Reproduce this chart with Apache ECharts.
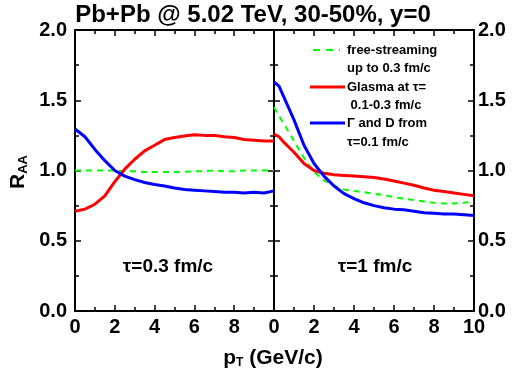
<!DOCTYPE html>
<html>
<head>
<meta charset="utf-8">
<script src="https://cdn.jsdelivr.net/npm/echarts@6/dist/echarts.min.js"></script>
<style>html,body{margin:0;padding:0;background:#fff}#c{width:514px;height:380px}</style>
</head>
<body>
<div id="c"></div>
<script>
// ---- data ----
var xL = [0,0.5,1,1.5,2,2.5,3,3.5,4,4.5,5,5.5,6,6.5,7,7.5,8,8.5,9,9.5,10];
var redL   = [0.71,0.725,0.76,0.82,0.92,1.01,1.08,1.14,1.18,1.22,1.235,1.245,1.255,1.25,1.25,1.24,1.235,1.22,1.215,1.21,1.21];
var blueL  = [1.295,1.24,1.15,1.07,1.0,0.96,0.935,0.915,0.9,0.89,0.875,0.865,0.86,0.855,0.85,0.845,0.845,0.84,0.845,0.84,0.855];
var greenL = [1.0,1.0,1.0,1.0,1.0,0.995,0.995,0.99,0.99,0.99,0.99,0.99,0.995,0.995,1.0,0.995,0.995,1.0,1.0,1.0,1.0];

var xR = [0,0.25,0.5,1,1.5,2,2.5,3,3.5,4,4.5,5,5.5,6,6.5,7,7.5,8,8.5,9,9.5,10];
var redR   = [1.26,1.24,1.20,1.13,1.05,1.0,0.98,0.97,0.965,0.96,0.955,0.95,0.94,0.925,0.91,0.895,0.875,0.86,0.85,0.84,0.83,0.82];
var blueR  = [1.63,1.60,1.52,1.36,1.18,1.05,0.96,0.89,0.835,0.80,0.77,0.75,0.735,0.725,0.72,0.71,0.70,0.695,0.69,0.69,0.685,0.68];
var greenR = [1.45,1.39,1.33,1.21,1.09,0.99,0.93,0.89,0.865,0.855,0.845,0.835,0.825,0.81,0.80,0.79,0.78,0.77,0.765,0.765,0.77,0.78];

var xTicks = [0,2,4,6,8,10];
var yTicks = [0.0,0.5,1.0,1.5,2.0];
var titleText = 'Pb+Pb @ 5.02 TeV, 30-50%, y=0';
var panelLabels = ['\u03c4=0.3 fm/c', '\u03c4=1 fm/c'];
var legendLines = [['free-streaming','up to 0.3 fm/c'],['Glasma at \u03c4=',' 0.1-0.3 fm/c'],['\u0393 and D from','\u03c4=0.1 fm/c']];

// ---- chart ----
var FF = '"Liberation Sans", Arial, sans-serif';
function pairs(xs, ys){ return xs.map(function(x,i){ return [x, ys[i]]; }); }

function xAx(grid, pos, showLabel, hideMax){
  return {
    type:'value', gridIndex:grid, position:pos, min:xTicks[0], max:xTicks[xTicks.length-1], interval:2,
    axisLine:{show:true, onZero:false, lineStyle:{color:'#000', width:2}},
    axisTick:{show:true, inside:true, length:6, lineStyle:{color:'#000', width:1.5}},
    minorTick:{show:true, splitNumber:2, length:4, lineStyle:{color:'#000', width:1.5}},
    splitLine:{show:false}, minorSplitLine:{show:false},
    axisLabel:{show:showLabel, margin:6, color:'#000', fontSize:20, fontWeight:'bold', fontFamily:FF,
      showMaxLabel:true,
      formatter:function(v){ return (hideMax && v===10) ? '' : String(v); }}
  };
}
function yAx(grid, pos, showLabel, margin){
  return {
    type:'value', gridIndex:grid, position:pos, min:yTicks[0], max:yTicks[yTicks.length-1], interval:0.5,
    axisLine:{show:true, onZero:false, lineStyle:{color:'#000', width:2}},
    axisTick:{show:true, inside:true, length:6, lineStyle:{color:'#000', width:1.5}},
    minorTick:{show:true, splitNumber:2, length:4, lineStyle:{color:'#000', width:1.5}},
    splitLine:{show:false}, minorSplitLine:{show:false},
    axisLabel:{show:showLabel, margin:margin, color:'#000', fontSize:20, fontWeight:'bold', fontFamily:FF,
      formatter:function(v){ return v.toFixed(1); }}
  };
}
function line(name, xi, yi, xs, ys, color, dashed){
  return {
    name:name, type:'line', xAxisIndex:xi, yAxisIndex:yi, data:pairs(xs, ys),
    showSymbol:false, symbol:'none', smooth:false, clip:true, silent:true, animation:false,
    lineStyle: dashed ? {color:color, width:2, type:[6,5]} : {color:color, width:3}
  };
}

var graphics = [
  {type:'text', x:253, y:15, style:{text:titleText, font:'bold 24px '+FF, fill:'#000', align:'center', verticalAlign:'middle'}},
  {type:'text', x:18, y:172, rotation:Math.PI/2,
    style:{text:'{a|R}{b|AA}', align:'center', verticalAlign:'middle', fill:'#000',
      rich:{a:{font:'bold 21px '+FF, fill:'#000'}, b:{font:'bold 13px '+FF, fill:'#000', padding:[10,0,0,0]}}}},
  {type:'text', x:273, y:358,
    style:{text:'{a|p}{b|T}{a| (GeV/c)}', align:'center', verticalAlign:'middle', fill:'#000',
      rich:{a:{font:'bold 21px '+FF, fill:'#000'}, b:{font:'bold 12px '+FF, fill:'#000', padding:[10,0,0,0]}}}},
  {type:'text', x:168, y:267, style:{text:panelLabels[0], font:'bold 19px '+FF, fill:'#000', align:'center', verticalAlign:'middle'}},
  {type:'text', x:375, y:267, style:{text:panelLabels[1], font:'bold 19px '+FF, fill:'#000', align:'center', verticalAlign:'middle'}}
];
var legColors = ['#00ff00','#ff0000','#0000ff'];
var legY = [[50,68],[87,105],[123,142]];
for (var i=0;i<3;i++){
  graphics.push({type:'line', shape:{x1: i===0?313:310, y1:legY[i][0], x2: i===0?340:345, y2:legY[i][0]},
    style: i===0 ? {stroke:legColors[i], lineWidth:2, lineDash:[7,6]} : {stroke:legColors[i], lineWidth:3}});
  graphics.push({type:'text', x:347, y:legY[i][0], style:{text:legendLines[i][0], font:'bold 13px '+FF, fill:'#000', verticalAlign:'middle'}});
  graphics.push({type:'text', x:347, y:legY[i][1], style:{text:legendLines[i][1], font:'bold 13px '+FF, fill:'#000', verticalAlign:'middle'}});
}

var chart = echarts.init(document.getElementById('c'), null, {renderer:'canvas'});
chart.setOption({
  animation:false,
  backgroundColor:'#fff',
  grid:[
    {left:75, right:240, top:30, bottom:69},
    {left:274, right:40, top:30, bottom:69}
  ],
  xAxis:[ xAx(0,'bottom',true,true), xAx(0,'top',false,false), xAx(1,'bottom',true,false), xAx(1,'top',false,false) ],
  yAxis:[ yAx(0,'left',true,8), yAx(0,'right',false,4), yAx(1,'left',false,4), yAx(1,'right',true,4) ],
  series:[
    line('free-streaming L',0,0,xL,greenL,'#00ff00',true),
    line('Glasma L',0,0,xL,redL,'#ff0000',false),
    line('Gamma D L',0,0,xL,blueL,'#0000ff',false),
    line('free-streaming R',2,2,xR,greenR,'#00ff00',true),
    line('Glasma R',2,2,xR,redR,'#ff0000',false),
    line('Gamma D R',2,2,xR,blueR,'#0000ff',false)
  ],
  graphic:graphics
});
</script>
</body>
</html>
